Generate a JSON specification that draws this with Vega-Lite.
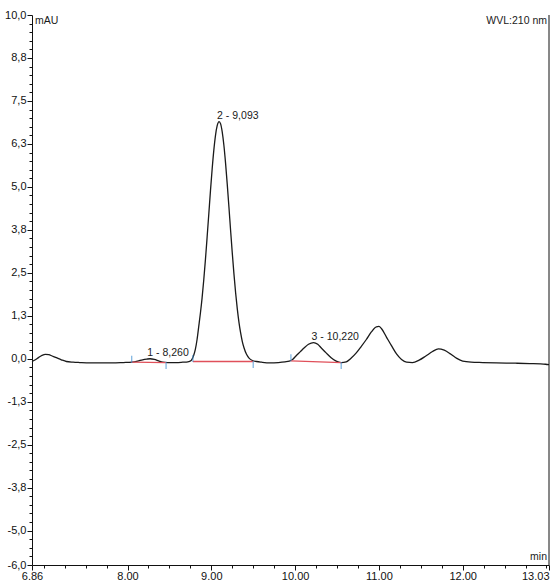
{
  "$schema": "https://vega.github.io/schema/vega-lite/v6.json",
  "width": 517,
  "height": 550,
  "autosize": {"type": "none"},
  "padding": {"left": 32, "top": 15, "right": 10, "bottom": 16},
  "background": "white",
  "config": {
    "view": {"stroke": null},
    "font": "Liberation Sans",
    "axis": {"grid": false, "domainColor": "#111", "tickColor": "#111", "labelColor": "#111", "labelFontSize": 11, "labelFont": "Liberation Sans", "domainWidth": 1, "tickWidth": 1}
  },
  "resolve": {"axis": {"x": "independent", "y": "independent"}},
  "datasets": {
    "curve": [
      {"t": 6.86, "v": -0.08}, {"t": 6.90, "v": -0.03}, {"t": 6.94, "v": 0.04}, {"t": 6.98, "v": 0.10},
      {"t": 7.02, "v": 0.13}, {"t": 7.06, "v": 0.12}, {"t": 7.10, "v": 0.08}, {"t": 7.15, "v": 0.03},
      {"t": 7.21, "v": -0.03}, {"t": 7.27, "v": -0.08}, {"t": 7.35, "v": -0.10}, {"t": 7.43, "v": -0.11},
      {"t": 7.55, "v": -0.12}, {"t": 7.70, "v": -0.12}, {"t": 7.82, "v": -0.12}, {"t": 7.95, "v": -0.11},
      {"t": 8.05, "v": -0.10}, {"t": 8.12, "v": -0.07}, {"t": 8.18, "v": -0.03}, {"t": 8.23, "v": -0.01},
      {"t": 8.27, "v": 0.00}, {"t": 8.32, "v": -0.02}, {"t": 8.37, "v": -0.06}, {"t": 8.42, "v": -0.10},
      {"t": 8.48, "v": -0.11}, {"t": 8.58, "v": -0.11}, {"t": 8.66, "v": -0.10}, {"t": 8.72, "v": -0.09},
      {"t": 8.76, "v": -0.05}, {"t": 8.79, "v": 0.10}, {"t": 8.81, "v": 0.28}, {"t": 8.83, "v": 0.56},
      {"t": 8.85, "v": 0.94}, {"t": 8.87, "v": 1.33}, {"t": 8.89, "v": 1.77}, {"t": 8.91, "v": 2.30},
      {"t": 8.93, "v": 2.89}, {"t": 8.95, "v": 3.54}, {"t": 8.97, "v": 4.21}, {"t": 8.99, "v": 4.89},
      {"t": 9.01, "v": 5.52}, {"t": 9.03, "v": 6.07}, {"t": 9.05, "v": 6.50}, {"t": 9.07, "v": 6.78},
      {"t": 9.093, "v": 6.90}, {"t": 9.11, "v": 6.84}, {"t": 9.13, "v": 6.60}, {"t": 9.15, "v": 6.21},
      {"t": 9.17, "v": 5.69}, {"t": 9.19, "v": 5.08}, {"t": 9.21, "v": 4.42}, {"t": 9.23, "v": 3.74},
      {"t": 9.25, "v": 3.08}, {"t": 9.27, "v": 2.47}, {"t": 9.29, "v": 1.92}, {"t": 9.31, "v": 1.45},
      {"t": 9.33, "v": 1.06}, {"t": 9.35, "v": 0.75}, {"t": 9.37, "v": 0.50}, {"t": 9.39, "v": 0.32},
      {"t": 9.42, "v": 0.13}, {"t": 9.45, "v": 0.02}, {"t": 9.49, "v": -0.05}, {"t": 9.54, "v": -0.08},
      {"t": 9.60, "v": -0.10}, {"t": 9.70, "v": -0.12}, {"t": 9.80, "v": -0.11}, {"t": 9.88, "v": -0.09},
      {"t": 9.93, "v": -0.07}, {"t": 9.97, "v": -0.02}, {"t": 10.01, "v": 0.08}, {"t": 10.06, "v": 0.20},
      {"t": 10.11, "v": 0.32}, {"t": 10.16, "v": 0.42}, {"t": 10.22, "v": 0.47}, {"t": 10.27, "v": 0.42},
      {"t": 10.31, "v": 0.32}, {"t": 10.37, "v": 0.17}, {"t": 10.43, "v": 0.03}, {"t": 10.49, "v": -0.07},
      {"t": 10.55, "v": -0.11}, {"t": 10.61, "v": -0.09}, {"t": 10.67, "v": 0.02}, {"t": 10.73, "v": 0.17},
      {"t": 10.79, "v": 0.36}, {"t": 10.85, "v": 0.56}, {"t": 10.91, "v": 0.78}, {"t": 10.97, "v": 0.93},
      {"t": 11.00, "v": 0.94}, {"t": 11.03, "v": 0.88}, {"t": 11.09, "v": 0.63}, {"t": 11.15, "v": 0.38},
      {"t": 11.21, "v": 0.14}, {"t": 11.27, "v": -0.02}, {"t": 11.33, "v": -0.10}, {"t": 11.40, "v": -0.11},
      {"t": 11.48, "v": -0.04}, {"t": 11.56, "v": 0.08}, {"t": 11.64, "v": 0.21}, {"t": 11.71, "v": 0.29},
      {"t": 11.78, "v": 0.25}, {"t": 11.86, "v": 0.13}, {"t": 11.93, "v": 0.01}, {"t": 12.00, "v": -0.07},
      {"t": 12.10, "v": -0.10}, {"t": 12.24, "v": -0.11}, {"t": 12.40, "v": -0.12}, {"t": 12.63, "v": -0.13},
      {"t": 12.80, "v": -0.14}, {"t": 12.99, "v": -0.16}, {"t": 13.03, "v": -0.17}
    ],
    "baselines": [
      {"seg": 1, "t": 8.05, "v": -0.10}, {"seg": 1, "t": 8.46, "v": -0.11},
      {"seg": 2, "t": 8.78, "v": -0.08}, {"seg": 2, "t": 9.50, "v": -0.08},
      {"seg": 3, "t": 9.95, "v": -0.06}, {"seg": 3, "t": 10.55, "v": -0.11}
    ],
    "marks": [
      {"kind": "start", "t": 8.05, "v": -0.10}, {"kind": "end", "t": 8.46, "v": -0.11},
      {"kind": "start", "t": 8.78, "v": -0.08}, {"kind": "end", "t": 9.50, "v": -0.08},
      {"kind": "start", "t": 9.95, "v": -0.06}, {"kind": "end", "t": 10.55, "v": -0.11}
    ],
    "peaks": [
      {"label": "1 - 8,260", "t": 8.26, "v": 0.0},
      {"label": "2 - 9,093", "t": 9.093, "v": 6.9},
      {"label": "3 - 10,220", "t": 10.22, "v": 0.47}
    ]
  },
  "layer": [
    {
      "data": {"name": "curve"},
      "mark": {"type": "line", "color": "#1a1a1a", "strokeWidth": 1.3, "interpolate": "monotone"},
      "encoding": {
        "x": {
          "field": "t", "type": "quantitative",
          "scale": {"domain": [6.86, 13.03], "nice": false, "zero": false},
          "axis": {
            "title": null,
            "orient": "bottom",
            "values": [6.86, 8, 9, 10, 11, 12, 13.03],
            "labelExpr": "format(datum.value, '.2f')",
            "labelAlign": {"condition": {"test": "datum.value > 13", "value": "right"}, "value": "center"},
            "tickSize": 5,
            "labelPadding": 0,
            "labelOverlap": false,
            "labelFlush": false,
            "labelBound": false
          }
        },
        "y": {
          "field": "v", "type": "quantitative",
          "scale": {"domain": [-6, 10], "nice": false, "zero": false},
          "axis": {
            "title": null,
            "orient": "left",
            "values": [-6, -5, -3.75, -2.5, -1.25, 0, 1.25, 2.5, 3.75, 5, 6.25, 7.5, 8.75, 10],
            "labelExpr": "replace(replace(format(datum.value, '.1f'), '.', ','), '\u2212', '-')",
            "tickSize": 5,
            "labelPadding": 1,
            "labelOverlap": false,
            "labelBound": false,
            "labelFlush": false
          }
        }
      }
    },
    {
      "data": {"name": "baselines"},
      "mark": {"type": "line", "color": "#e0505a", "strokeWidth": 1.3},
      "encoding": {
        "x": {
          "field": "t", "type": "quantitative",
          "scale": {"domain": [6.86, 13.03], "nice": false, "zero": false},
          "axis": {
            "title": null,
            "orient": "bottom",
            "values": [7, 7.25, 7.5, 7.75, 8.25, 8.5, 8.75, 9.25, 9.5, 9.75, 10.25, 10.5, 10.75, 11.25, 11.5, 11.75, 12.25, 12.5, 12.75, 13],
            "tickSize": 3,
            "labels": false,
            "domain": false
          }
        },
        "y": {
          "field": "v", "type": "quantitative",
          "scale": {"domain": [-6, 10], "nice": false, "zero": false},
          "axis": {
            "title": null,
            "orient": "left",
            "values": [-5.75, -5.5, -5.25, -4.75, -4.5, -4.25, -4, -3.5, -3.25, -3, -2.75, -2.25, -2, -1.75, -1.5, -1, -0.75, -0.5, -0.25, 0.25, 0.5, 0.75, 1, 1.5, 1.75, 2, 2.25, 2.75, 3, 3.25, 3.5, 4, 4.25, 4.5, 4.75, 5.25, 5.5, 5.75, 6, 6.5, 6.75, 7, 7.25, 7.75, 8, 8.25, 8.5, 9, 9.25, 9.5, 9.75],
            "tickSize": 3,
            "labels": false,
            "domain": false
          }
        },
        "detail": {"field": "seg", "type": "nominal"}
      }
    },
    {
      "data": {"name": "marks"},
      "transform": [{"filter": "datum.kind == 'start'"}],
      "mark": {"type": "tick", "orient": "vertical", "size": 7, "thickness": 1.2, "color": "#3f8fd2", "yOffset": -3},
      "encoding": {
        "x": {"field": "t", "type": "quantitative", "scale": {"domain": [6.86, 13.03], "nice": false, "zero": false}, "axis": null},
        "y": {"field": "v", "type": "quantitative", "scale": {"domain": [-6, 10], "nice": false, "zero": false}, "axis": null}
      }
    },
    {
      "data": {"name": "marks"},
      "transform": [{"filter": "datum.kind == 'end'"}],
      "mark": {"type": "tick", "orient": "vertical", "size": 7, "thickness": 1.2, "color": "#3f8fd2", "yOffset": 3},
      "encoding": {
        "x": {"field": "t", "type": "quantitative", "scale": {"domain": [6.86, 13.03], "nice": false, "zero": false}, "axis": null},
        "y": {"field": "v", "type": "quantitative", "scale": {"domain": [-6, 10], "nice": false, "zero": false}, "axis": null}
      }
    },
    {
      "data": {"name": "peaks"},
      "mark": {"type": "text", "align": "left", "baseline": "bottom", "dx": -2, "dy": -1, "fontSize": 10.5, "color": "#1a1a1a", "font": "Liberation Sans"},
      "encoding": {
        "x": {"field": "t", "type": "quantitative", "scale": {"domain": [6.86, 13.03], "nice": false, "zero": false}, "axis": null},
        "y": {"field": "v", "type": "quantitative", "scale": {"domain": [-6, 10], "nice": false, "zero": false}, "axis": null},
        "text": {"field": "label", "type": "nominal"}
      }
    },
    {
      "data": {"values": [{}]},
      "mark": {"type": "rule", "color": "#111", "strokeWidth": 1},
      "encoding": {
        "x": {"datum": 13.03, "type": "quantitative", "scale": {"domain": [6.86, 13.03], "nice": false, "zero": false}, "axis": null}
      }
    },
    {
      "data": {"values": [{}]},
      "mark": {"type": "text", "text": "mAU", "align": "left", "baseline": "top", "dx": 3, "dy": 1, "fontSize": 10.5, "color": "#1a1a1a", "font": "Liberation Sans"},
      "encoding": {
        "x": {"datum": 6.86, "type": "quantitative", "scale": {"domain": [6.86, 13.03], "nice": false, "zero": false}, "axis": null},
        "y": {"datum": 10, "type": "quantitative", "scale": {"domain": [-6, 10], "nice": false, "zero": false}, "axis": null}
      }
    },
    {
      "data": {"values": [{}]},
      "mark": {"type": "text", "text": "WVL:210 nm", "align": "right", "baseline": "top", "dx": -2, "dy": 1, "fontSize": 10.5, "color": "#1a1a1a", "font": "Liberation Sans"},
      "encoding": {
        "x": {"datum": 13.03, "type": "quantitative", "scale": {"domain": [6.86, 13.03], "nice": false, "zero": false}, "axis": null},
        "y": {"datum": 10, "type": "quantitative", "scale": {"domain": [-6, 10], "nice": false, "zero": false}, "axis": null}
      }
    },
    {
      "data": {"values": [{}]},
      "mark": {"type": "text", "text": "min", "align": "right", "baseline": "bottom", "dx": -2, "dy": -3, "fontSize": 10.5, "color": "#1a1a1a", "font": "Liberation Sans"},
      "encoding": {
        "x": {"datum": 13.03, "type": "quantitative", "scale": {"domain": [6.86, 13.03], "nice": false, "zero": false}, "axis": null},
        "y": {"datum": -6, "type": "quantitative", "scale": {"domain": [-6, 10], "nice": false, "zero": false}, "axis": null}
      }
    }
  ]
}
